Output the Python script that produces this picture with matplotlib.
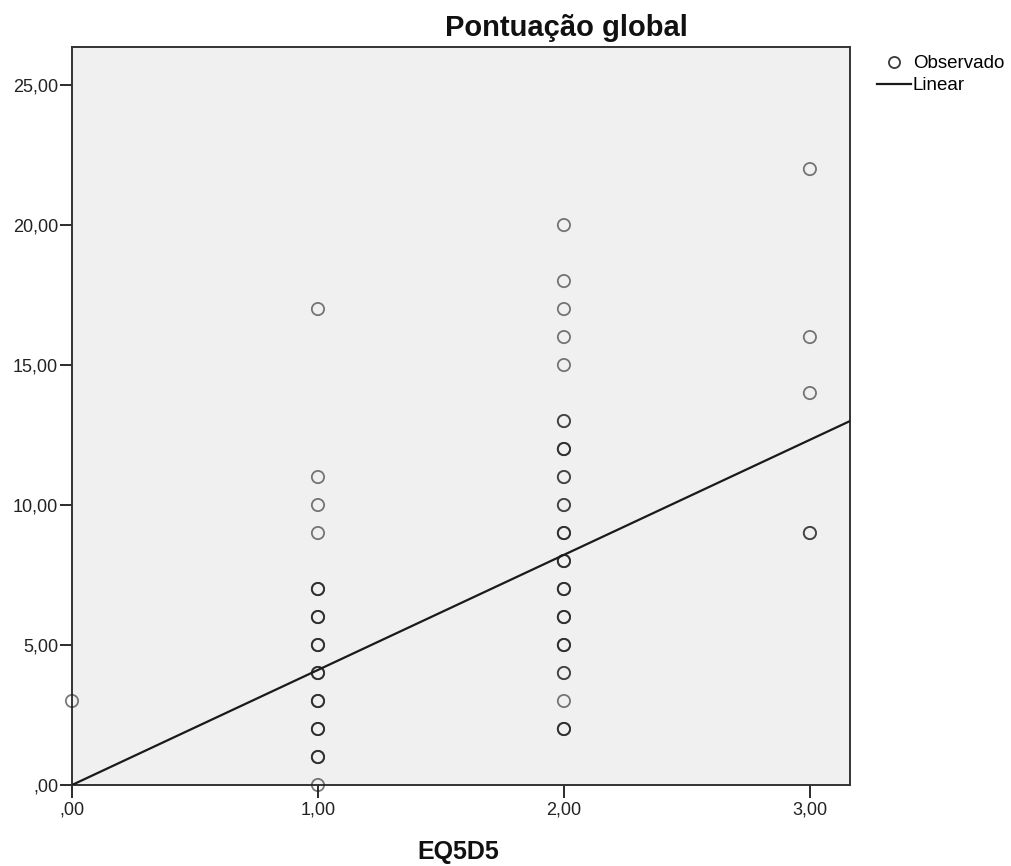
import matplotlib

matplotlib.use("Agg")
import matplotlib.pyplot as plt  # noqa: E402
from matplotlib.lines import Line2D  # noqa: E402
from matplotlib.ticker import FuncFormatter  # noqa: E402

plt.rcParams["font.family"] = ["Liberation Sans", "DejaVu Sans"]

# observed points: EQ5D5 value, score, and how many cases sit on that spot
obs_x = [0, 1, 1, 1, 1, 1, 1, 1, 1, 1, 1, 1, 1,
         2, 2, 2, 2, 2, 2, 2, 2, 2, 2, 2, 2, 2, 2, 2, 2, 2,
         3, 3, 3, 3]
obs_y = [3, 0, 1, 2, 3, 4, 5, 6, 7, 9, 10, 11, 17,
         2, 3, 4, 5, 6, 7, 8, 9, 10, 11, 12, 13, 15, 16, 17, 18, 20,
         9, 14, 16, 22]
obs_n = [1, 1, 3, 3, 3, 3, 3, 3, 3, 1, 1, 1, 1,
         3, 1, 2, 3, 3, 3, 3, 3, 2, 2, 3, 2, 1, 1, 1, 1, 1,
         2, 1, 1, 1]

# linear fit line
fit_intercept = 0.0
fit_slope = 4.11

x_ticks = [0, 1, 2, 3]
y_ticks = [0, 5, 10, 15, 20, 25]

BG = "#f0f0f0"
INK = "#1a1a1a"


def _fmt(v, _pos=None):
    s = f"{v:.2f}".replace(".", ",")
    return s[1:] if s.startswith("0,") else s


fig = plt.figure(figsize=(10.11, 8.66), dpi=100)
ax = fig.add_axes([72 / 1011, 1 - 785 / 866, (850 - 72) / 1011, (785 - 47) / 866])
ax.set_facecolor(BG)

# overlapping cases are drawn once per case so the rings get darker
for x, y, n in zip(obs_x, obs_y, obs_n):
    for _ in range(n):
        ax.scatter(x, y, s=78, facecolors="none", edgecolors="#222222",
                   linewidths=1.3, alpha=0.6, zorder=3, clip_on=False)

xmin, xmax = 0, 3.163
ymin, ymax = 0, 26.36
ax.plot([xmin, xmax], [fit_intercept + fit_slope * xmin, fit_intercept + fit_slope * xmax],
        color=INK, lw=1.6, zorder=4)

ax.set_xlim(xmin, xmax)
ax.set_ylim(ymin, ymax)
ax.set_xticks(x_ticks)
ax.set_yticks(y_ticks)
ax.xaxis.set_major_formatter(FuncFormatter(_fmt))
ax.yaxis.set_major_formatter(FuncFormatter(_fmt))
ax.tick_params(direction="out", length=9, width=1.3, color=INK, labelsize=13,
               labelcolor="#222222", pad=1)
ax.tick_params(axis="x", pad=3)
for s in ax.spines.values():
    s.set_color("#333333")
    s.set_linewidth(1.4)

fig.text(566 / 1011, 1 - 28 / 866, "Pontuação global", ha="center", va="center",
         fontsize=21, fontweight="bold", color="#111111")
fig.text(458 / 1011, 1 - 852 / 866, "EQ5D5", ha="center", va="center",
         fontsize=18, fontweight="bold", color="#111111")

handles = [
    Line2D([], [], marker="o", ls="none", mfc="none", mec="#3a3a3a", ms=8, mew=1.3),
    Line2D([], [], color=INK, lw=1.6),
]
fig.legend(handles, ["Observado", "Linear"], loc="upper left",
           bbox_to_anchor=(868 / 1011, 1 - 46 / 866), frameon=False, fontsize=13.5,
           handlelength=1.8, handletextpad=0.1, labelspacing=0.25, borderpad=0)

fig.savefig("out.png", dpi=100, facecolor="white")
